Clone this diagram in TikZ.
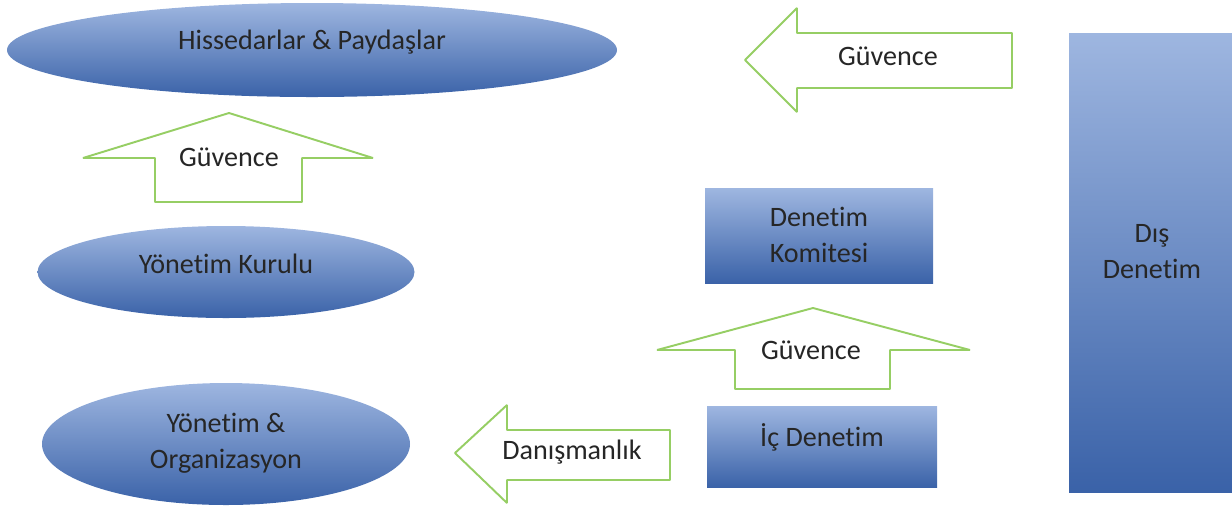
\documentclass[tikz,border=0pt]{standalone}
\usepackage{fontspec}
\setmainfont[Ligatures=NoCommon]{Carlito}
\usepackage{xcolor}
\usepackage{tikz}
\usetikzlibrary{shapes.geometric}

\definecolor{blueTop}{RGB}{158,182,224}
\definecolor{blueBot}{RGB}{58,98,168}
\definecolor{arrowGreen}{RGB}{150,206,100}

\begin{document}
\begin{tikzpicture}[
    x=0.02cm, y=-0.02cm,
    blob/.style={ellipse,inner sep=0pt,top color=blueTop,bottom color=blueBot,draw=none},
    panel/.style={rectangle,inner sep=0pt,top color=blueTop,bottom color=blueBot,draw=none},
    guard/.style={draw=arrowGreen,line width=1.1pt,fill=white,line join=bevel},
    lbl/.style={align=center,text=black!85,font=\fontsize{16}{20.5}\selectfont},
  ]
    \useasboundingbox (0,0) rectangle (1232,512);

    % left column
    \node[blob,minimum width=610*0.02cm,minimum height=94*0.02cm] (owners) at (312,50) {};
    \node[lbl] (ownersTxt) at (312,42) {Hissedarlar \& Paydaşlar};
    \node[blob,minimum width=377*0.02cm,minimum height=92*0.02cm] (board) at (226,272) {};
    \node[lbl] (boardTxt) at (226,264) {Yönetim Kurulu};
    \node[blob,minimum width=368*0.02cm,minimum height=122*0.02cm] (mgmt) at (226,444) {};
    \node[lbl] (mgmtTxt) at (226,443) {Yönetim \&\\Organizasyon};

    \draw[guard] (83,158) -- (229,113) -- (373,158) -- (302,158) -- (302,202) -- (155,202) -- (155,158) -- cycle;
    \node[lbl] (assure1) at (229,157) {Güvence};

    % middle column
    \node[panel,minimum width=228*0.02cm,minimum height=95*0.02cm] (committee) at (819,236) {};
    \node[lbl] (committeeTxt) at (819,235) {Denetim\\Komitesi};
    \node[panel,minimum width=230*0.02cm,minimum height=81*0.02cm] (internal) at (822,447) {};
    \node[lbl] (internalTxt) at (822,437) {İç Denetim};

    \draw[guard] (657,350) -- (813,308) -- (970,350) -- (890,350) -- (890,389) -- (735,389) -- (735,350) -- cycle;
    \node[lbl] (assure2) at (811,350) {Güvence};

    \draw[guard] (455,453) -- (507,405) -- (507,430) -- (670,430) -- (670,480) -- (507,480) -- (507,503) -- cycle;
    \node[lbl] (advice) at (572,452) {Danışmanlık};

    \draw[guard] (745,60) -- (797,8) -- (797,33) -- (1012,33) -- (1012,88) -- (797,88) -- (797,112) -- cycle;
    \node[lbl] (assure3) at (888,56) {Güvence};

    % right column
    \node[panel,minimum width=163*0.02cm,minimum height=459*0.02cm] (external) at (1150.5,262.5) {};
    \node[lbl] (externalTxt) at (1152,252) {Dış\\Denetim};
\end{tikzpicture}
\end{document}
